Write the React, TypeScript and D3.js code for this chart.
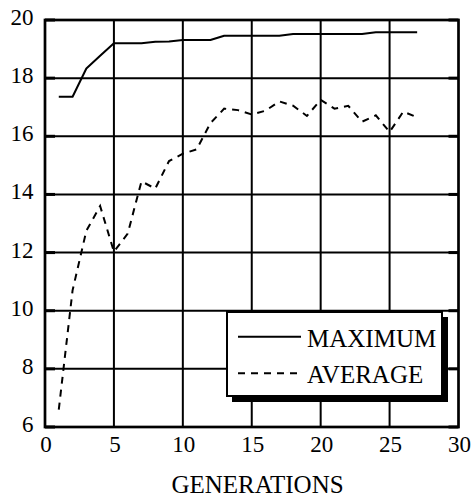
import React from "react";
import * as d3 from "d3";

// Generation index for each recorded value
const generations = [1, 2, 3, 4, 5, 6, 7, 8, 9, 10, 11, 12, 13, 14, 15, 16, 17, 18, 19, 20, 21, 22, 23, 24, 25, 26, 27];

// Best fitness in the population per generation
const maximum = [
  17.36, 17.36, 18.33, 18.77, 19.2, 19.2, 19.2, 19.25, 19.26, 19.31, 19.31, 19.31, 19.46, 19.46,
  19.46, 19.46, 19.46, 19.52, 19.52, 19.52, 19.52, 19.52, 19.52, 19.58, 19.58, 19.58, 19.58,
];

// Mean fitness in the population per generation
const average = [
  6.6, 10.7, 12.75, 13.6, 12.03, 12.65, 14.45, 14.2, 15.15, 15.4, 15.55, 16.45, 16.95, 16.9,
  16.75, 16.88, 17.2, 17.05, 16.7, 17.25, 16.95, 17.05, 16.5, 16.72, 16.15, 16.85, 16.65,
];

const xTicks = [0, 5, 10, 15, 20, 25, 30];
const yTicks = [6, 8, 10, 12, 14, 16, 18, 20];
const legendItems = [
  { label: "MAXIMUM", dash: null as string | null },
  { label: "AVERAGE", dash: "7,6" },
];
const xTitle = "GENERATIONS";

const W = 472;
const H = 498;
const FONT = "Liberation Serif, DejaVu Serif, serif";

export default function App() {
  const x = d3.scaleLinear().domain([0, 30]).range([45, 458.5]);
  const y = d3.scaleLinear().domain([6, 20]).range([427, 20]);

  const line = d3
    .line<number>()
    .x((_, i) => x(generations[i]))
    .y((d) => y(d));

  const [x0, x1] = x.range();
  const [y0, y1] = y.range();

  // legend geometry
  const lg = { left: 227, top: 312, right: 442, bottom: 396 };

  return (
    <div style={{ position: "absolute", left: 0, top: 0 }}>
      <svg width={W} height={H} style={{ display: "block", background: "#fff", fontFamily: FONT }}>
        <rect x={0} y={0} width={W} height={H} fill="#fff" />
        {/* grid */}
        <g stroke="#000" strokeWidth={2}>
          {xTicks.slice(1, -1).map((t) => (
            <line key={"gx" + t} x1={x(t)} x2={x(t)} y1={y0} y2={y1} />
          ))}
          {yTicks.slice(1, -1).map((t) => (
            <line key={"gy" + t} x1={x0} x2={x1} y1={y(t)} y2={y(t)} />
          ))}
        </g>
        {/* tick marks on left and right edges */}
        <g stroke="#000" strokeWidth={3}>
          {yTicks.map((t) => (
            <g key={"tk" + t}>
              <line x1={x0} x2={x0 + 10} y1={y(t)} y2={y(t)} />
              <line x1={x1 - 10} x2={x1} y1={y(t)} y2={y(t)} />
            </g>
          ))}
        </g>
        {/* frame */}
        <rect x={x0} y={y1} width={x1 - x0} height={y0 - y1} fill="none" stroke="#000" strokeWidth={2.7} />

        {/* series */}
        <path d={line(maximum) || ""} fill="none" stroke="#000" strokeWidth={2} strokeLinejoin="round" />
        <path d={line(average) || ""} fill="none" stroke="#000" strokeWidth={2} strokeDasharray="7,6" />

        {/* y tick labels */}
        <g style={{ fontSize: "23px" }} textAnchor="end" fill="#000">
          {yTicks.map((t) => (
            <text key={"yl" + t} x={33.5} y={y(t) + 5}>
              {t}
            </text>
          ))}
        </g>
        {/* x tick labels */}
        <g style={{ fontSize: "23px" }} textAnchor="middle" fill="#000">
          {xTicks.map((t) => (
            <text key={"xl" + t} x={x(t) + 1} y={452}>
              {t}
            </text>
          ))}
        </g>
        <text x={257.5} y={493} style={{ fontSize: "25px" }} textAnchor="middle" fill="#000">
          {xTitle}
        </text>

        {/* legend */}
        <rect x={lg.left + 5} y={lg.top + 5} width={lg.right - lg.left + 1} height={lg.bottom - lg.top + 1} fill="#000" />
        <rect x={lg.left} y={lg.top} width={lg.right - lg.left} height={lg.bottom - lg.top} fill="#fff" stroke="#000" strokeWidth={2} />
        {legendItems.map((it, i) => {
          const ly = 336.7 + i * 36.6;
          return (
            <g key={it.label}>
              <line x1={238} x2={301} y1={ly} y2={ly} stroke="#000" strokeWidth={2} strokeDasharray={it.dash || undefined} />
              <text x={307} y={ly + 10} style={{ fontSize: "25px" }} fill="#000">
                {it.label}
              </text>
            </g>
          );
        })}
      </svg>
    </div>
  );
}
